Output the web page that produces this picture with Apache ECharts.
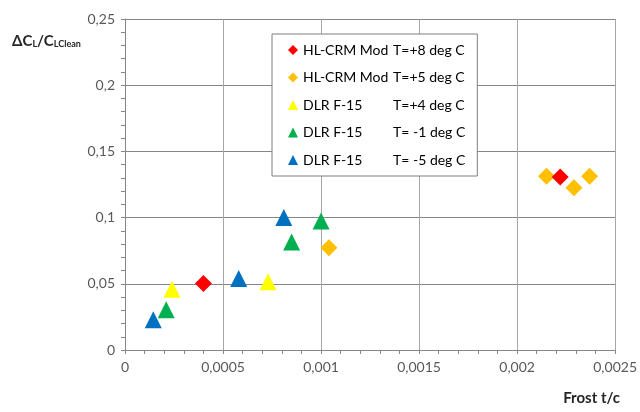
<!DOCTYPE html>
<html>
<head>
<meta charset="utf-8">
<script src="https://cdn.jsdelivr.net/npm/echarts@6/dist/echarts.min.js"></script>
<style>
  html, body { margin: 0; padding: 0; background: #fff; }
  #main { width: 640px; height: 412px; }
</style>
</head>
<body>
<div id="main"></div>
<script>
// tick labels (comma decimals like the original)
var xTickLabels = ['0', '0,0005', '0,001', '0,0015', '0,002', '0,0025'];
var yTickLabels = ['0', '0,05', '0,1', '0,15', '0,2', '0,25'];

// legend text: model + temperature
var models = ['HL-CRM Mod', 'HL-CRM Mod', 'DLR F-15', 'DLR F-15', 'DLR F-15'];
var temps = ['T=+8 deg C', 'T=+5 deg C', 'T=+4 deg C', 'T= -1 deg C', 'T= -5 deg C'];
var colors = ['#ff0000', '#ffc000', '#ffff00', '#00b050', '#0070c0'];
var symbols = ['diamond', 'diamond', 'triangle', 'triangle', 'triangle'];

// [frost t/c, dCL/CLclean]
var crm8 = [[0.0004, 0.0502], [0.00222, 0.1307]];
var crm5 = [[0.00104, 0.0772], [0.00215, 0.1312], [0.00229, 0.1226], [0.00237, 0.1313]];
var f15p4 = [[0.00024, 0.0458], [0.00073, 0.0516]];
var f15m1 = [[0.00021, 0.0304], [0.00085, 0.0816], [0.001, 0.0974]];
var f15m5 = [[0.000144, 0.0228], [0.00058, 0.054], [0.00081, 0.1]];
var allData = [crm8, crm5, f15p4, f15m1, f15m5];

var names = models.map(function (m, i) { return m + ' ' + temps[i]; });

var series = allData.map(function (d, i) {
  return {
    name: names[i],
    type: 'scatter',
    data: d,
    symbol: symbols[i],
    symbolSize: 17,
    z: i === 0 ? 5 : 3,
    itemStyle: { color: colors[i], opacity: 1 }
  };
});

var chart = echarts.init(document.getElementById('main'));
var font = 'Lato, "Open Sans", sans-serif';

var option = {
  animation: false,
  backgroundColor: '#fff',
  textStyle: { fontFamily: font },
  grid: { left: 125, top: 19, right: 23, bottom: 62 },
  legend: {
    orient: 'vertical',
    left: 272,
    top: 34,
    width: 201,
    padding: [9, 12, 9, 16],
    itemGap: 13.5,
    itemWidth: 10,
    itemHeight: 10,
    borderColor: '#7f7f7f',
    borderWidth: 1,
    backgroundColor: '#fff',
    data: names,
    formatter: function (name) {
      var i = names.indexOf(name);
      return '{m|' + models[i] + '}{t|' + temps[i] + '}';
    },
    textStyle: {
      fontFamily: font,
      fontSize: 14,
      color: '#000',
      rich: {
        m: { width: 90, fontSize: 14, fontFamily: font, color: '#000' },
        t: { fontSize: 14, fontFamily: font, color: '#000' }
      }
    }
  },
  xAxis: {
    type: 'value',
    min: 0,
    max: 0.0025,
    interval: 0.0005,
    axisLine: { show: true, onZero: false, lineStyle: { color: '#868686' } },
    axisTick: { show: true, length: 4, lineStyle: { color: '#868686' } },
    minorTick: { show: true, splitNumber: 5, length: 4, lineStyle: { color: '#868686' } },
    splitLine: { show: true, lineStyle: { color: '#a6a6a6', width: 1 } },
    axisLabel: {
      margin: 10,
      fontSize: 14,
      color: '#595959',
      fontFamily: font,
      formatter: function (v, idx) { return xTickLabels[idx]; }
    }
  },
  yAxis: {
    type: 'value',
    min: 0,
    max: 0.25,
    interval: 0.05,
    axisLine: { show: true, lineStyle: { color: '#868686' } },
    axisTick: { show: true, length: 4, lineStyle: { color: '#868686' } },
    minorTick: { show: true, splitNumber: 5, length: 4, lineStyle: { color: '#868686' } },
    splitLine: { show: true, lineStyle: { color: '#868686', width: 1 } },
    axisLabel: {
      margin: 10,
      fontSize: 14,
      color: '#595959',
      fontFamily: font,
      formatter: function (v, idx) { return yTickLabels[idx]; }
    }
  },
  graphic: [
    {
      type: 'text',
      left: 12,
      top: 34,
      style: {
        text: '{b|ΔC}{s|L}{b|/C}{s|LClean}',
        rich: {
          b: { fontSize: 15, fontWeight: 'bold', fontFamily: font, fill: '#262626', verticalAlign: 'bottom', lineHeight: 20 },
          s: { fontSize: 9, fontWeight: 'bold', fontFamily: font, fill: '#262626', verticalAlign: 'bottom', lineHeight: 14 }
        }
      }
    },
    {
      type: 'text',
      right: 20,
      top: 391,
      style: {
        text: 'Frost t/c',
        font: 'bold 15px ' + font,
        fill: '#262626'
      }
    }
  ],
  series: series
};

chart.setOption(option);
</script>
</body>
</html>
